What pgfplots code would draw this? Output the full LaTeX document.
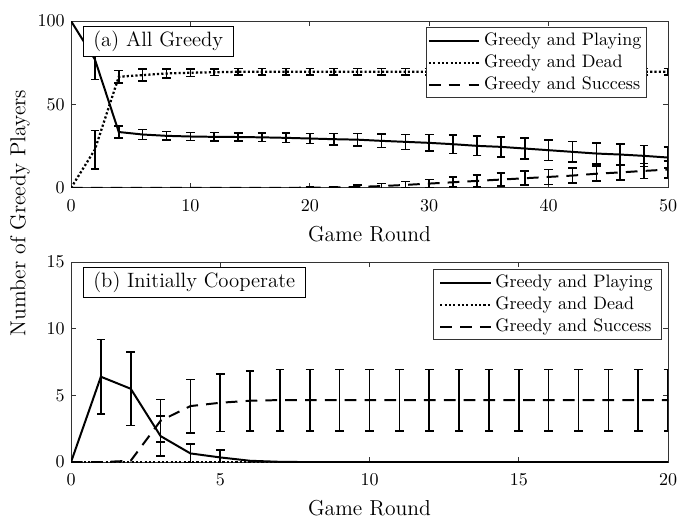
\documentclass[border=0pt]{standalone}
\usepackage{pgfplots}
\pgfplotsset{compat=1.18}
\usepackage{pgfplotstable}

% (a) all greedy: mean and error, every 2 rounds
\pgfplotstableread{
x  play  eplay dead  edead succ esucc
0  100   0     0     0     0    0
2  77    12    23    11.5  0    0
4  33.5  3.5   66.6  3.8   0    0
6  32    3     67.6  3.5   0    0
8  31.2  2.6   68.6  2.8   0    0
10 30.8  2.5   69    2.2   0    0
12 30.6  2.5   69.3  2     0    0
14 30.5  2.5   69.6  2     0    0
16 30.3  2.6   69.6  2     0    0
18 30.0  2.8   69.6  2     0    0
20 29.6  3     69.6  2     0.2  0.5
22 29.2  3.3   69.6  2     0.3  0.6
24 28.9  3.6   69.6  2     0.6  1
26 28.2  4     69.6  2     1.1  1.5
28 27.6  4.5   69.6  2     1.8  2
30 27.0  5     69.6  2     2.6  2.5
32 26.2  5.5   69.6  2     3.4  3
34 25.2  5.8   69.6  2     4.2  3.5
36 24.6  6     69.6  2     5.0  4
38 23.6  6.2   69.6  2     5.8  4.2
40 22.6  6.2   69.6  2     6.6  4.5
42 21.6  6.2   69.6  2     7.4  4.5
44 20.6  6.3   69.6  2     8.5  4.5
46 20.0  6.3   69.6  2     9.3  4.5
48 19.2  6.3   69.6  2     10.2 4.5
50 18.2  6.3   69.6  2     11   5
}\topdata

% (b) initially cooperate
\pgfplotstableread{
x  play  eplay dead succ esucc
0  0     0     0    0    0
1  6.4   2.8   0    0    0
2  5.5   2.75  0    0.1  0
3  1.95  1.5   0    3.1  1.6
4  0.65  0.7   0    4.2  2.0
5  0.35  0.55  0    4.45 2.15
6  0.1   0     0    4.6  2.25
7  0.02  0     0    4.65 2.3
8  0     0     0    4.65 2.3
9  0     0     0    4.65 2.3
10 0     0     0    4.65 2.3
11 0     0     0    4.65 2.3
12 0     0     0    4.65 2.3
13 0     0     0    4.65 2.3
14 0     0     0    4.65 2.3
15 0     0     0    4.65 2.3
16 0     0     0    4.65 2.3
17 0     0     0    4.65 2.3
18 0     0     0    4.65 2.3
19 0     0     0    4.65 2.3
20 0     0     0    4.65 2.3
}\botdata

\tikzset{
  tbox/.style={draw=black, fill=white, line width=0.5pt, anchor=north west,
    inner xsep=5.5pt, inner ysep=2.5pt, font=\fontsize{11.5}{13}\selectfont},
}
\pgfplotsset{
  panel/.style={
    scale only axis, width=331.2pt, xmin=0,
    axis line style={black!80, line width=0.5pt},
    tick style={black!80, line width=0.5pt},
    tick align=inside, major tick length=3pt,
    xticklabel style={yshift=-3pt},
    xlabel={Game Round}, xlabel style={font=\large, yshift=-1.5pt},
    legend cell align=left,
    legend image code/.code={\draw[##1] (0pt,0pt) -- (28pt,0pt);},
  },
  ln/.style={black, line width=1.1pt},
  dots/.style={black, line width=1.25pt, dash pattern=on 1.2pt off 1.2pt},
  dash/.style={ln, dash pattern=on 6.5pt off 4.5pt},
  ebar/.style={forget plot, draw=none, no markers,
    error bars/y dir=both, error bars/y explicit,
    error bars/error bar style={draw=black, solid, line width=0.9pt},
    error bars/error mark options={rotate=90, mark size=2.4pt, line width=0.9pt, draw=black, solid}},
}

\begin{document}
\begin{tikzpicture}
\begin{axis}[panel, name=top, at={(0pt,0pt)}, anchor=north west,
    height=92.6pt, xmax=50, ymin=0, ymax=100,
    xtick={0,10,...,50}, ytick={0,50,100},
    legend style={at={(rel axis cs:0.965,0.964)}, anchor=north east,
      draw=black!80, line width=0.5pt, inner sep=1pt, row sep=-0.3pt}]
  \addplot[ln] table[x=x, y=play] {\topdata};
  \addlegendentry{Greedy and Playing}
  \addplot[dots] table[x=x, y=dead] {\topdata};
  \addlegendentry{Greedy and Dead}
  \addplot[dash] table[x=x, y=succ] {\topdata};
  \addlegendentry{Greedy and Success}
  \addplot[ebar, restrict x to domain=2:50] table[x=x, y=play, y error=eplay] {\topdata};
  \addplot[ebar, restrict x to domain=2:50] table[x=x, y=dead, y error=edead] {\topdata};
  \addplot[ebar, restrict x to domain=20:50] table[x=x, y=succ, y error=esucc] {\topdata};
  \node[tbox] at (rel axis cs:0.02,0.97) {(a) All Greedy};
\end{axis}

\begin{axis}[panel, name=bot, at={(0pt,-133.7pt)}, anchor=north west,
    height=111pt, xmax=20, ymin=0, ymax=15,
    xtick={0,5,...,20}, ytick={0,5,10,15},
    legend style={at={(rel axis cs:0.99,0.965)}, anchor=north east,
      draw=black!80, line width=0.5pt, inner sep=1pt, inner xsep=3pt, row sep=-0.3pt}]
  \addplot[ln] table[x=x, y=play] {\botdata};
  \addlegendentry{Greedy and Playing}
  \addplot[dots] table[x=x, y=dead] {\botdata};
  \addlegendentry{Greedy and Dead}
  \addplot[dash] table[x=x, y=succ] {\botdata};
  \addlegendentry{Greedy and Success}
  \addplot[ebar, restrict x to domain=1:5] table[x=x, y=play, y error=eplay] {\botdata};
  \addplot[ebar, restrict x to domain=3:20] table[x=x, y=succ, y error=esucc] {\botdata};
  \node[tbox] at (rel axis cs:0.02,0.975) {(b) Initially Cooperate};
\end{axis}

\node[rotate=90, font=\large] at (-28.3pt,-106.5pt) {Number of Greedy Players};

\pgfresetboundingbox
\path[use as bounding box] (-39.4pt,11.65pt) rectangle (345.6pt,-277.4pt);
\end{tikzpicture}
\end{document}
